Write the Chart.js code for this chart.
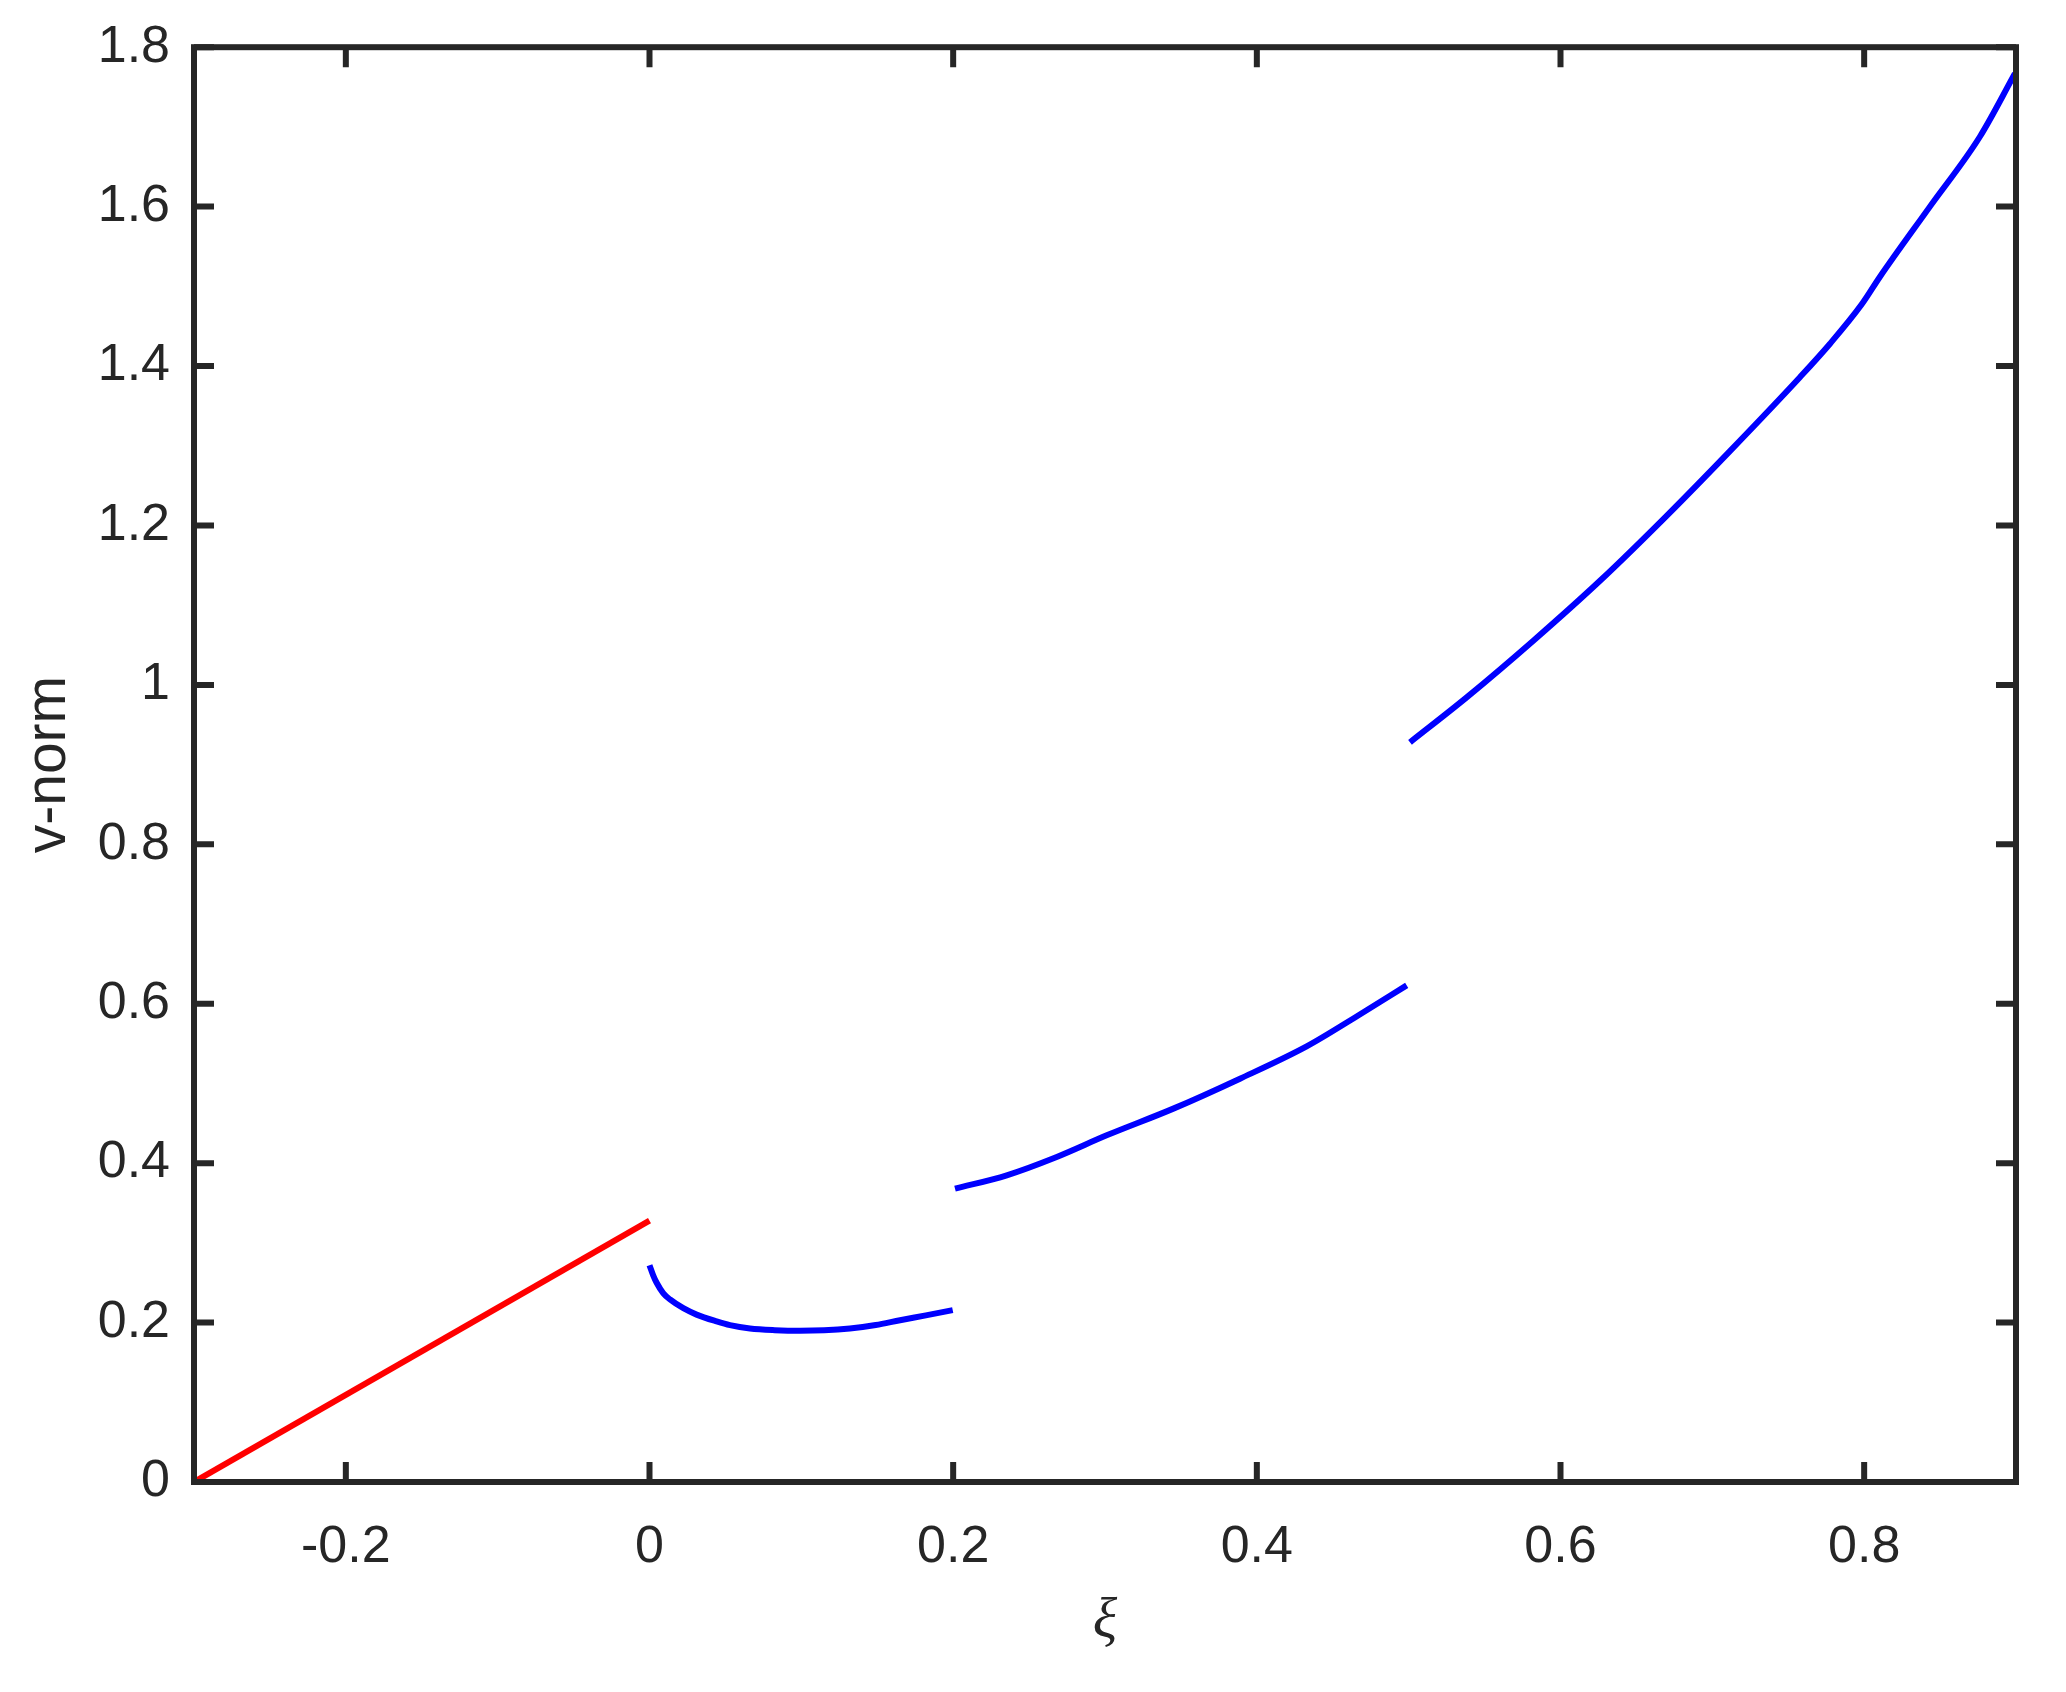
<!DOCTYPE html>
<html>
<head>
<meta charset="utf-8">
<script src="https://cdn.jsdelivr.net/npm/chart.js@4.4.1/dist/chart.umd.min.js"></script>
<style>
  html, body { margin: 0; padding: 0; background: #fff; }
  #wrap { width: 2066px; height: 1692px; }
</style>
</head>
<body>
<div id="wrap"><canvas id="myChart" width="2066" height="1692"></canvas></div>
<script>
// values
const redX = [-0.3, 0];
const redY = [0, 0.328];

const seg1X = [0, 0.0025, 0.0047, 0.009, 0.0135, 0.0223, 0.031, 0.0442, 0.053, 0.0662, 0.0825, 0.0991, 0.115, 0.132, 0.149, 0.165, 0.182, 0.1997];
const seg1Y = [0.272, 0.259, 0.250, 0.237, 0.229, 0.218, 0.210, 0.2015, 0.1968, 0.1926, 0.1905, 0.1897, 0.1903, 0.1926, 0.197, 0.203, 0.209, 0.2156];

const seg2X = [0.2012, 0.2353, 0.2682, 0.3011, 0.345, 0.3889, 0.4328, 0.4657, 0.4987];
const seg2Y = [0.368, 0.3848, 0.4078, 0.4349, 0.4684, 0.506, 0.5465, 0.584, 0.623];

const seg3X = [0.5009, 0.5382, 0.5821, 0.626, 0.6699, 0.7138, 0.7577, 0.7775, 0.7984, 0.8104, 0.8433, 0.8763, 0.8993];
const seg3Y = [0.928, 0.9843, 1.0554, 1.1306, 1.2121, 1.2977, 1.386, 1.428, 1.4774, 1.512, 1.600, 1.688, 1.767];

const xTicks = [-0.2, 0, 0.2, 0.4, 0.6, 0.8];
const yTicks = [0, 0.2, 0.4, 0.6, 0.8, 1, 1.2, 1.4, 1.6, 1.8];

const axisColor = '#262626';

function pts(xs, ys) {
    return xs.map((x, i) => ({x: x, y: ys[i]}));
}

function line(xs, ys, color, smooth) {
    return {
        data: pts(xs, ys),
        showLine: true,
        borderColor: color,
        borderWidth: 6,
        pointRadius: 0,
        tension: 0,
        cubicInterpolationMode: smooth ? 'monotone' : 'default',
        fill: false,
    };
}

// matlab style box with inward ticks on all four sides
const boxPlugin = {
    id: 'box',
    afterDraw(chart) {
        const ctx = chart.ctx;
        const a = chart.chartArea;
        const xs = chart.scales.x, ys = chart.scales.y;
        const tl = 20;
        ctx.save();
        ctx.strokeStyle = axisColor;
        ctx.lineWidth = 6;
        ctx.lineCap = 'butt';
        ctx.beginPath();
        xTicks.forEach(v => {
            const px = xs.getPixelForValue(v);
            ctx.moveTo(px, a.bottom); ctx.lineTo(px, a.bottom - tl);
            ctx.moveTo(px, a.top); ctx.lineTo(px, a.top + tl);
        });
        yTicks.forEach(v => {
            const py = ys.getPixelForValue(v);
            ctx.moveTo(a.left, py); ctx.lineTo(a.left + tl, py);
            ctx.moveTo(a.right, py); ctx.lineTo(a.right - tl, py);
        });
        ctx.stroke();
        ctx.lineJoin = 'miter';
        ctx.strokeRect(a.left, a.top, a.right - a.left, a.bottom - a.top);
        ctx.restore();
    }
};

new Chart(document.getElementById('myChart').getContext('2d'), {
    type: 'scatter',
    data: {
        datasets: [
            line(redX, redY, '#ff0000', false),
            line(seg1X, seg1Y, '#0000ff', true),
            line(seg2X, seg2Y, '#0000ff', true),
            line(seg3X, seg3Y, '#0000ff', true),
        ]
    },
    options: {
        responsive: false,
        animation: false,
        devicePixelRatio: 1,
        layout: {padding: {top: 37, right: 50, left: 0, bottom: 0}},
        plugins: {legend: {display: false}, tooltip: {enabled: false}},
        scales: {
            x: {
                type: 'linear',
                min: -0.3,
                max: 0.9,
                grid: {display: false},
                border: {display: false},
                afterBuildTicks: s => { s.ticks = xTicks.map(v => ({value: v})); },
                afterFit: s => { s.height = 210; },
                ticks: {
                    color: axisColor,
                    padding: 26,
                    maxRotation: 0,
                    autoSkip: false,
                    font: {family: '"Liberation Sans", Arial, sans-serif', size: 52},
                    callback: v => String(+v.toFixed(1)),
                },
                title: {
                    display: true,
                    text: 'ξ',
                    color: axisColor,
                    padding: {top: 0, bottom: 36},
                    font: {family: '"Liberation Serif", "Times New Roman", serif', size: 57, style: 'italic'},
                },
            },
            y: {
                type: 'linear',
                min: 0,
                max: 1.8,
                grid: {display: false},
                border: {display: false},
                afterBuildTicks: s => { s.ticks = yTicks.map(v => ({value: v})); },
                afterFit: s => { s.width = 194; },
                ticks: {
                    color: axisColor,
                    padding: 16,
                    autoSkip: false,
                    font: {family: '"Liberation Sans", Arial, sans-serif', size: 52},
                    callback: v => String(+v.toFixed(1)),
                },
                title: {
                    display: true,
                    text: 'v-norm',
                    color: axisColor,
                    padding: {top: 15, bottom: 0},
                    font: {family: '"Liberation Sans", Arial, sans-serif', size: 57},
                },
            },
        },
    },
    plugins: [boxPlugin],
});
</script>
</body>
</html>
